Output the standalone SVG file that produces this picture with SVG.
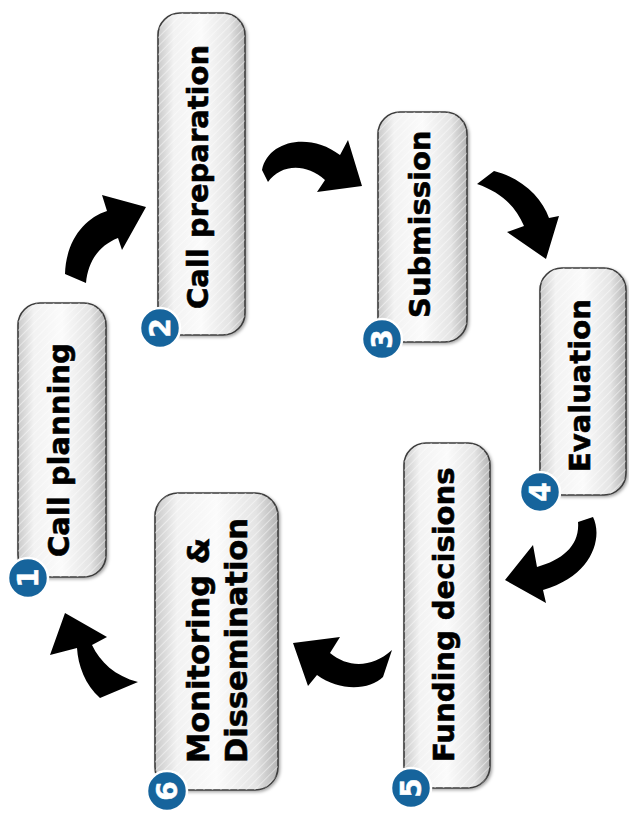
<svg xmlns="http://www.w3.org/2000/svg" width="629" height="820" viewBox="0 0 629 820">
  <defs>
    <linearGradient id="boxfill" x1="0" y1="0" x2="1" y2="0">
      <stop offset="0" stop-color="#c9c9c9"/>
      <stop offset="0.18" stop-color="#f2f2f2"/>
      <stop offset="0.5" stop-color="#fbfbfb"/>
      <stop offset="0.82" stop-color="#e4e4e4"/>
      <stop offset="1" stop-color="#b4b4b4"/>
    </linearGradient>
    <pattern id="hatch" width="6" height="6" patternUnits="userSpaceOnUse" patternTransform="rotate(45)">
      <rect width="6" height="6" fill="none"/>
      <line x1="0" y1="0" x2="0" y2="6" stroke="#ffffff" stroke-width="1.5" stroke-opacity="0.6"/>
    </pattern>
    <filter id="shadow" x="-20%" y="-10%" width="140%" height="120%">
      <feDropShadow dx="1.5" dy="1.5" stdDeviation="1.5" flood-color="#000" flood-opacity="0.35"/>
    </filter>
  </defs>
  <style>
    .box { fill: url(#boxfill); stroke: #3c3c3c; stroke-width: 1.6; filter: url(#shadow); }
    .hatch { fill: url(#hatch); stroke: none; }
    .label { font-family: "DejaVu Sans", Verdana, sans-serif; font-weight: bold; font-size: 29px; fill: #000; stroke: #000; stroke-width: 0.6; }
    .big { font-size: 30.5px; }
    .badge { fill: #16649c; stroke: #ffffff; stroke-width: 2.5; }
    .num { font-family: "DejaVu Sans", Verdana, sans-serif; font-weight: bold; font-size: 28px; fill: #ffffff; stroke: #ffffff; stroke-width: 0.5; text-anchor: middle; }
    .arrow { fill: #000; stroke: none; }
  </style>
  <rect width="629" height="820" fill="#ffffff"/>

  <g id="connectors">
    <path class="arrow" d="M 65 274 C 66 240 85 218 107 211 L 102 195 L 146 207 L 122 250 L 118 238 C 98 246 88 262 86 283 Z"/>
    <path class="arrow" d="M 262 170 C 268 140 310 132 340 155 L 348 140 L 362 186 L 317 192 L 325 180 C 305 162 280 165 268 182 Z"/>
    <path class="arrow" d="M 477 184 L 494 171 C 522 178 542 198 549 218 L 559 216 L 546 259 L 507 232 L 524 226 C 515 205 500 192 477 184 Z"/>
    <path class="arrow" d="M 578 522 L 593 517 C 603 537 593 576 543 590 L 546 603 L 505 580 L 533 545 L 537 567 C 563 560 580 545 578 522 Z"/>
    <path class="arrow" d="M 392 650 L 383 677 C 370 690 340 692 317 675 L 308 686 L 293 643 L 340 637 L 330 653 C 348 668 372 668 392 650 Z"/>
    <path class="arrow" d="M 65 613 L 107 637 L 92 645 C 100 662 115 676 138 682 L 100 698 C 85 685 78 665 77 648 L 50 655 Z"/>
  </g>

  <g id="node1">
    <rect class="box" x="18" y="303" width="88" height="274" rx="22"/>
    <rect class="hatch" x="18" y="303" width="88" height="274" rx="22"/>
    <text class="label" transform="translate(69,557) rotate(-90)">Call planning</text>
    <circle class="badge" cx="28" cy="578" r="20"/>
    <text class="num" transform="translate(28,578) rotate(-90)" y="10">1</text>
  </g>

  <g id="node2">
    <rect class="box" x="158" y="13" width="87" height="322" rx="22"/>
    <rect class="hatch" x="158" y="13" width="87" height="322" rx="22"/>
    <text class="label" transform="translate(208,309) rotate(-90)">Call preparation</text>
    <circle class="badge" cx="160" cy="328" r="20"/>
    <text class="num" transform="translate(160,328) rotate(-90)" y="10">2</text>
  </g>

  <g id="node3">
    <rect class="box" x="378" y="112" width="89" height="230" rx="22"/>
    <rect class="hatch" x="378" y="112" width="89" height="230" rx="22"/>
    <text class="label" transform="translate(430,318) rotate(-90)">Submission</text>
    <circle class="badge" cx="382" cy="339" r="20"/>
    <text class="num" transform="translate(382,339) rotate(-90)" y="10">3</text>
  </g>

  <g id="node4">
    <rect class="box" x="540" y="268" width="86" height="227" rx="22"/>
    <rect class="hatch" x="540" y="268" width="86" height="227" rx="22"/>
    <text class="label" transform="translate(590,472) rotate(-90)">Evaluation</text>
    <circle class="badge" cx="540" cy="492" r="20"/>
    <text class="num" transform="translate(540,492) rotate(-90)" y="10">4</text>
  </g>

  <g id="node5">
    <rect class="box" x="404" y="443" width="86" height="345" rx="22"/>
    <rect class="hatch" x="404" y="443" width="86" height="345" rx="22"/>
    <text class="label" transform="translate(454,762) rotate(-90)">Funding decisions</text>
    <circle class="badge" cx="411" cy="788" r="20"/>
    <text class="num" transform="translate(411,788) rotate(-90)" y="10">5</text>
  </g>

  <g id="node6">
    <rect class="box" x="155" y="493" width="123" height="297" rx="23"/>
    <rect class="hatch" x="155" y="493" width="123" height="297" rx="23"/>
    <text class="label big" transform="translate(209,763) rotate(-90)">Monitoring &amp;</text>
    <text class="label big" transform="translate(247,763) rotate(-90)">Dissemination</text>
    <circle class="badge" cx="167" cy="791" r="20"/>
    <text class="num" transform="translate(167,791) rotate(-90)" y="10">6</text>
  </g>
</svg>
